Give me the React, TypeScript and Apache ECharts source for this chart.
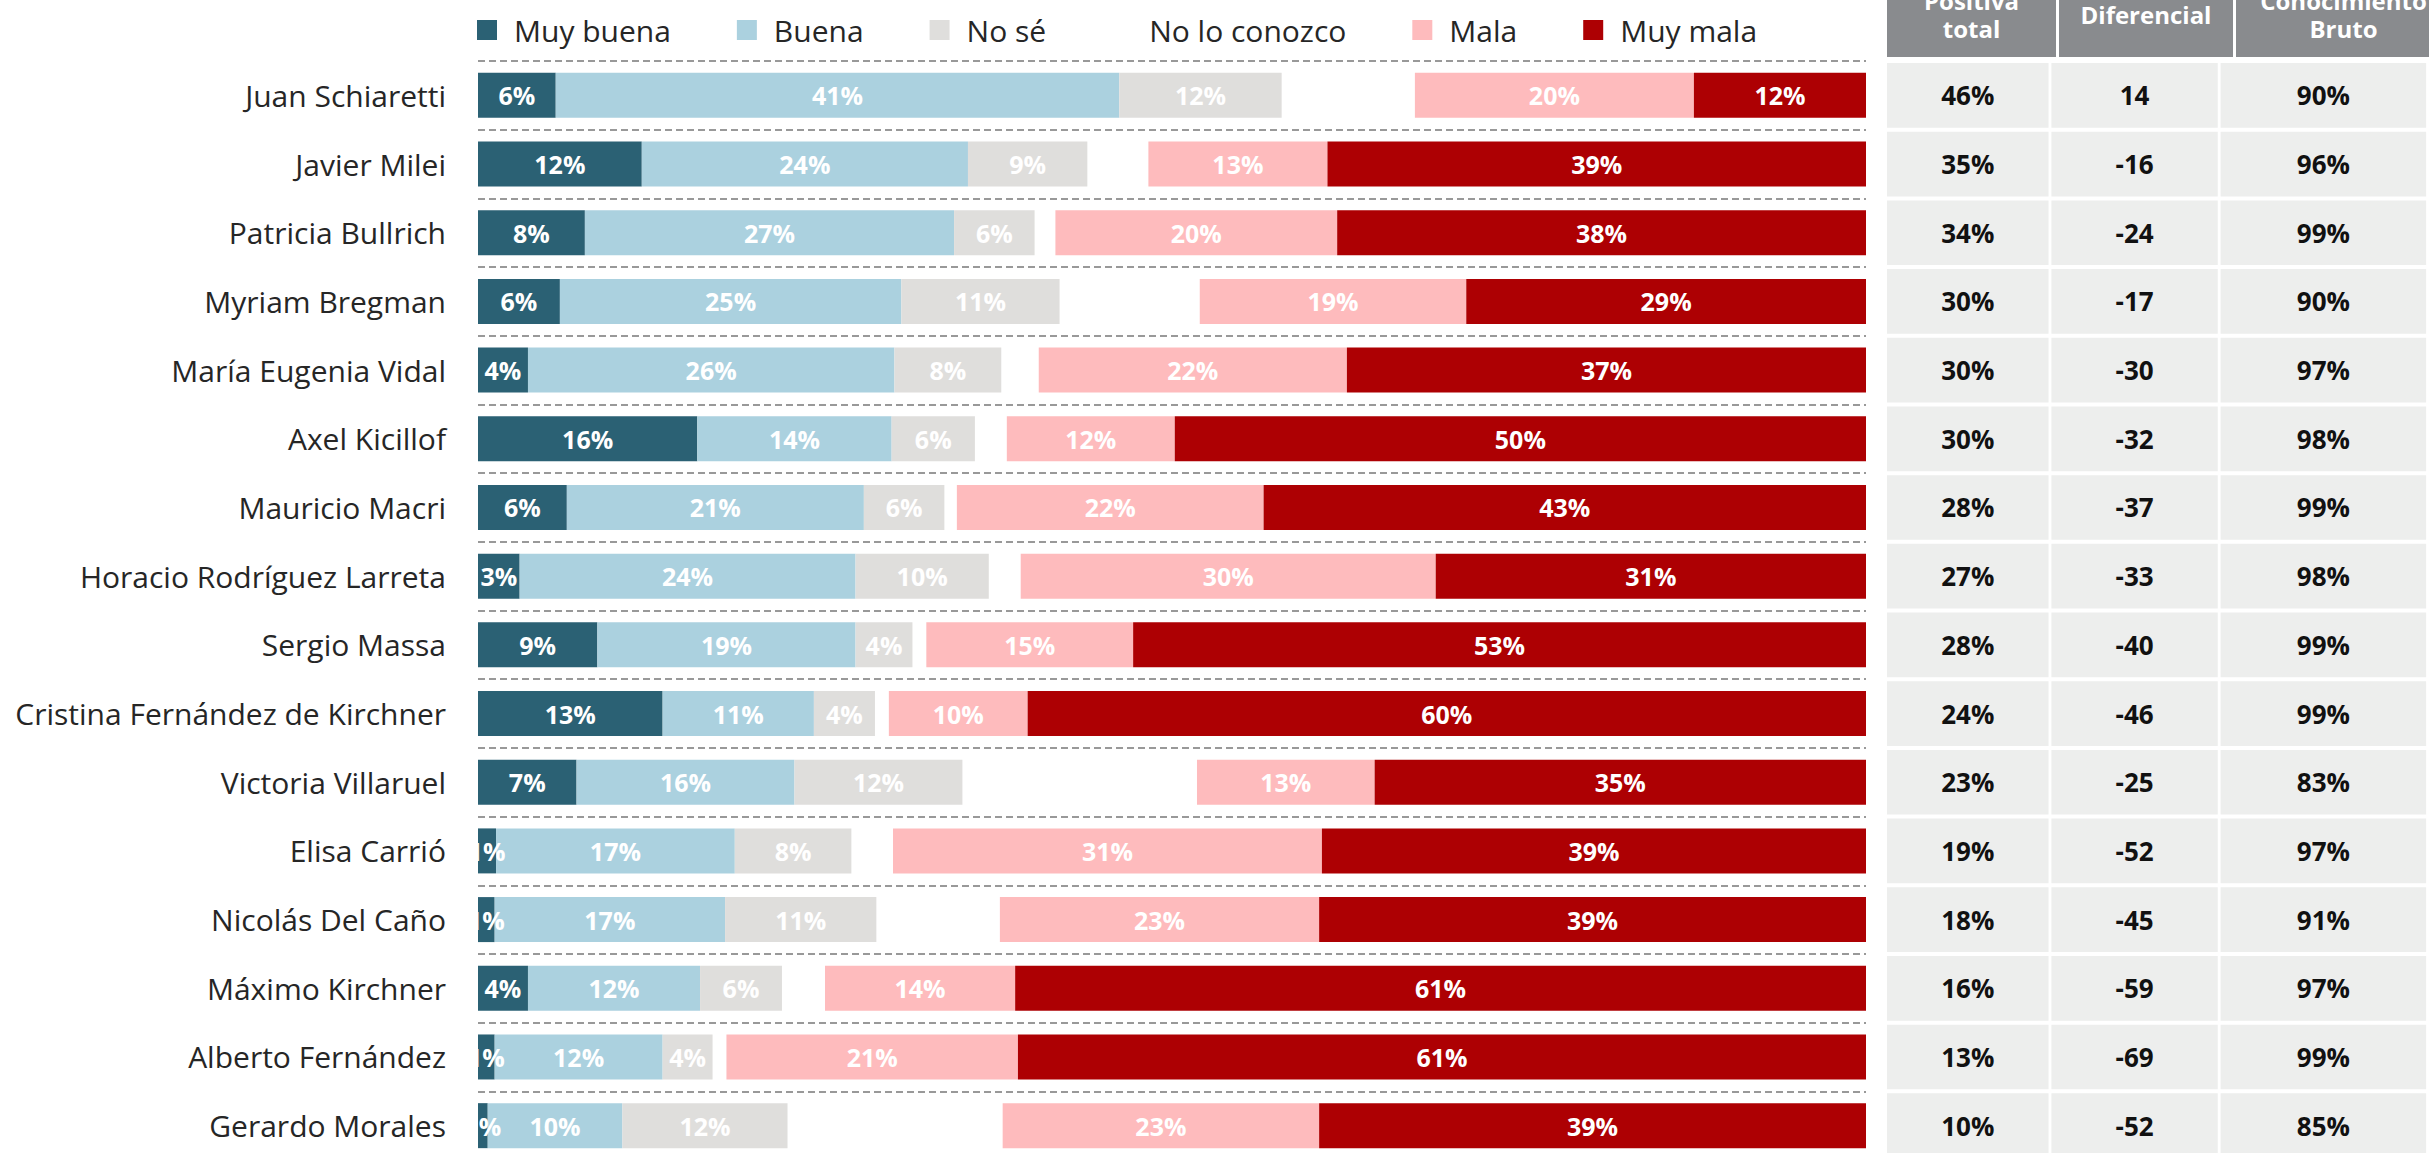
import React, { useEffect, useRef } from "react";
import * as echarts from "echarts";

const candidates = [
  "Juan Schiaretti",
  "Javier Milei",
  "Patricia Bullrich",
  "Myriam Bregman",
  "María Eugenia Vidal",
  "Axel Kicillof",
  "Mauricio Macri",
  "Horacio Rodríguez Larreta",
  "Sergio Massa",
  "Cristina Fernández de Kirchner",
  "Victoria Villaruel",
  "Elisa Carrió",
  "Nicolás Del Caño",
  "Máximo Kirchner",
  "Alberto Fernández",
  "Gerardo Morales",
];

const muyBuena = [5.6, 11.8, 7.7, 5.9, 3.6, 15.8, 6.4, 3.0, 8.6, 13.3, 7.1, 1.3, 1.2, 3.6, 1.2, 0.7];
const buena = [40.6, 23.5, 26.6, 24.6, 26.4, 14.0, 21.4, 24.2, 18.6, 10.9, 15.7, 17.2, 16.6, 12.4, 12.1, 9.7];
const noSe = [11.7, 8.6, 5.8, 11.4, 7.7, 6.0, 5.8, 9.6, 4.1, 4.4, 12.1, 8.4, 10.9, 5.9, 3.6, 11.9];
const noLoConozco = [9.6, 4.4, 1.5, 10.1, 2.7, 2.3, 0.9, 2.3, 1.0, 1.0, 16.9, 3.0, 8.9, 3.1, 1.0, 15.5];
const mala = [20.1, 12.9, 20.3, 19.2, 22.2, 12.1, 22.1, 29.9, 14.9, 10.0, 12.8, 30.9, 23.0, 13.7, 21.0, 22.8];
const muyMala = [12.4, 38.8, 38.1, 28.8, 37.4, 49.8, 43.4, 31.0, 52.8, 60.4, 35.4, 39.2, 39.4, 61.3, 61.1, 39.4];

const tableHeaders = ["Positiva\ntotal", "Diferencial", "Conocimiento\nBruto"];
const positivaTotal = ["46%", "35%", "34%", "30%", "30%", "30%", "28%", "27%", "28%", "24%", "23%", "19%", "18%", "16%", "13%", "10%"];
const diferencial = ["14", "-16", "-24", "-17", "-30", "-32", "-37", "-33", "-40", "-46", "-25", "-52", "-45", "-59", "-69", "-52"];
const conocimientoBruto = ["90%", "96%", "99%", "90%", "97%", "98%", "99%", "98%", "99%", "99%", "83%", "97%", "91%", "97%", "99%", "85%"];

const seriesNames = ["Muy buena", "Buena", "No sé", "No lo conozco", "Mala", "Muy mala"];
const seriesValues = [muyBuena, buena, noSe, noLoConozco, mala, muyMala];
const seriesColors = ["#2b6174", "#abd1df", "#dfdedc", "transparent", "#febbbd", "#ad0003"];

// layout
const FONT = '"Open Sans", "Noto Sans", sans-serif';
const GRID_TOP = 61;
const GRID_HEIGHT = 1099;
const TABLE_LEFT = 1887;
const TABLE_WIDTH = 567;
const colEdges = [0, 172, 349, 567];
const COL_GAP = 3;

export default function App() {
  const ref = useRef<HTMLDivElement>(null);

  useEffect(() => {
    if (!ref.current) return;
    const chart = echarts.init(ref.current, null, { renderer: "svg" });

    const tableCols = [positivaTotal, diferencial, conocimientoBruto];
    const cellData: number[][] = [];
    const cellText: string[] = [];
    candidates.forEach((_, r) => {
      tableCols.forEach((col, c) => {
        cellData.push([c, r]);
        cellText.push(col[r]);
      });
    });

    const barSeries = seriesNames.map((name, i) => ({
      name,
      type: "bar",
      stack: "total",
      xAxisIndex: 0,
      yAxisIndex: 0,
      barWidth: 45,
      data: seriesValues[i],
      itemStyle: { color: seriesColors[i] },
      label: {
        show: name !== "No lo conozco",
        position: "inside",
        color: "#ffffff",
        fontFamily: FONT,
        fontWeight: "bold",
        fontSize: 25,
        formatter: (p: any) => Math.round(p.value) + "%",
      },
      emphasis: { disabled: true },
    }));

    const headerGraphics: any[] = [];
    tableHeaders.forEach((h, c) => {
      const x0 = TABLE_LEFT + colEdges[c];
      const w = colEdges[c + 1] - colEdges[c] - COL_GAP;
      headerGraphics.push({
        type: "rect",
        shape: { x: x0, y: -40, width: w, height: 97 },
        style: { fill: "#898b8e" },
        silent: true,
      });
      headerGraphics.push({
        type: "text",
        x: x0 + w / 2,
        y: 14,
        style: {
          text: h,
          fill: "#ffffff",
          font: `bold 24px ${FONT}`,
          textAlign: "center",
          textVerticalAlign: "middle",
          align: "center",
          verticalAlign: "middle",
          lineHeight: 28,
        },
        silent: true,
      });
    });

    const option: any = {
      animation: false,
      backgroundColor: "#ffffff",
      legend: {
        data: seriesNames,
        left: 472,
        top: 10,
        itemWidth: 20,
        itemHeight: 20,
        itemGap: 66,
        icon: "rect",
        selectedMode: false,
        textStyle: { fontFamily: FONT, fontSize: 30, color: "#262626", padding: [0, 0, 0, 12] },
      },
      grid: [
        { left: 478, top: GRID_TOP, width: 1388, height: GRID_HEIGHT },
        { left: TABLE_LEFT, top: GRID_TOP, width: TABLE_WIDTH, height: GRID_HEIGHT },
      ],
      xAxis: [
        { type: "value", gridIndex: 0, min: 0, max: 100, show: false },
        { type: "value", gridIndex: 1, min: 0, max: 567, show: false },
      ],
      yAxis: [
        {
          type: "category",
          gridIndex: 0,
          data: candidates,
          inverse: true,
          axisLine: { show: false },
          axisTick: { show: false },
          axisLabel: { fontFamily: FONT, fontSize: 30, color: "#262626", margin: 32 },
          splitLine: { show: true, lineStyle: { color: "#999999", width: 2, type: [7, 4] } },
        },
        {
          type: "category",
          gridIndex: 1,
          data: candidates,
          inverse: true,
          show: false,
        },
      ],
      series: [
        ...barSeries,
        {
          type: "custom",
          xAxisIndex: 1,
          yAxisIndex: 1,
          data: cellData,
          silent: true,
          renderItem: (params: any, api: any) => {
            const c = api.value(0);
            const r = api.value(1);
            const x0 = api.coord([colEdges[c], r])[0];
            const x1 = api.coord([colEdges[c + 1] - COL_GAP, r])[0];
            const yc = api.coord([0, r])[1];
            const h = api.size([0, 1])[1];
            return {
              type: "group",
              children: [
                {
                  type: "rect",
                  shape: { x: x0, y: yc - h / 2 + 2, width: x1 - x0, height: h - 4 },
                  style: { fill: "#edeeed" },
                },
                {
                  type: "text",
                  x: (x0 + x1) / 2,
                  y: yc,
                  style: {
                    text: cellText[params.dataIndex],
                    fill: "#111111",
                    font: `bold 26px ${FONT}`,
                    textAlign: "center",
                    textVerticalAlign: "middle",
                    align: "center",
                    verticalAlign: "middle",
                  },
                },
              ],
            };
          },
        },
      ],
      graphic: headerGraphics,
    };

    chart.setOption(option);
    return () => chart.dispose();
  }, []);

  return (
    <div
      ref={ref}
      style={{ position: "fixed", left: 0, top: 0, width: 2429, height: 1200, background: "#fff" }}
    />
  );
}
